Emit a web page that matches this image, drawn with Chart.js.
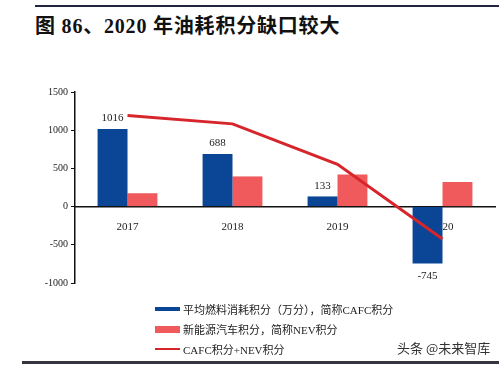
<!DOCTYPE html>
<html>
<head>
<meta charset="utf-8">
<script src="https://cdn.jsdelivr.net/npm/chart.js@4/dist/chart.umd.min.js"></script>
<style>
  html, body { margin: 0; padding: 0; background: #fff; }
  #wrap { position: relative; width: 499px; height: 365px; overflow: hidden; }
  #topline { position: absolute; left: 35px; right: 0; top: 5px; height: 2px; background: #23243f; }
  #bottomline { position: absolute; left: 22px; right: 0; top: 361px; height: 3px; background: #34353f; }
  #title {
    position: absolute; left: 35px; top: 10px; letter-spacing: 0.8px; font-weight: bold;
    font: bold 20px "Liberation Serif", "Noto Sans CJK SC", serif; color: #111; white-space: pre;
  }
  #chart { position: absolute; left: 0; top: 0; }
  #legend { position: absolute; left: 155px; top: 299px; font: 11px "Liberation Serif", "Noto Sans CJK SC", serif; color: #222; }
  .item { display: flex; align-items: center; height: 20px; }
  .sw { width: 25px; margin-right: 3px; }
  #mark { position: absolute; left: 397px; top: 338px; font: 13px "Noto Sans CJK SC", sans-serif; color: #333; }
</style>
</head>
<body>
<div id="wrap">
  <div id="topline"></div>
  <div id="title">图 86、2020 年油耗积分缺口较大</div>
  <canvas id="chart" width="499" height="365"></canvas>
  <div id="legend">
    <div class="item"><div class="sw" style="height:4px;background:#0b4595"></div>平均燃料消耗积分（万分），简称CAFC积分</div>
    <div class="item"><div class="sw" style="height:7px;background:#f05a5c"></div>新能源汽车积分，简称NEV积分</div>
    <div class="item"><div class="sw" style="height:2px;background:#d7262b"></div>CAFC积分+NEV积分</div>
  </div>
  <div id="mark">头条 @未来智库</div>
  <div id="bottomline"></div>
</div>
<script>
let years = ["2017", "2018", "2019", "2020"];
let cafc = [1016, 688, 133, -745];
let nev = [175, 395, 420, 322];
let total = [1191, 1083, 553, -425];
let yTicks = [1500, 1000, 500, 0, -500, -1000];

// value labels on the CAFC bars
let barLabels = {
  id: "barLabels",
  afterDatasetsDraw(chart) {
    let ctx = chart.ctx;
    let meta = chart.getDatasetMeta(0);
    ctx.save();
    ctx.font = "11px 'Liberation Serif'";
    ctx.fillStyle = "#222";
    ctx.textAlign = "center";
    meta.data.forEach((bar, i) => {
      let v = cafc[i];
      if (v >= 0) {
        ctx.textBaseline = "bottom";
        ctx.fillText(String(v), bar.x, bar.y - 5);
      } else {
        ctx.textBaseline = "top";
        ctx.fillText(String(v), bar.x, bar.y + 7);
      }
    });
    ctx.restore();
  }
};

new Chart(document.getElementById("chart"), {
  data: {
    labels: years,
    datasets: [
      { type: "bar", data: cafc, backgroundColor: "#0b4595", order: 1,
        barPercentage: 1, categoryPercentage: 0.57 },
      { type: "bar", data: nev, backgroundColor: "#f05a5c", order: 2,
        barPercentage: 1, categoryPercentage: 0.57 },
      { type: "line", data: total, borderColor: "#d7262b", borderWidth: 3,
        pointRadius: 0, tension: 0, order: 0 }
    ]
  },
  options: {
    responsive: false,
    animation: false,
    layout: { padding: { top: 92, bottom: 82, left: 0, right: 4 } },
    plugins: { legend: { display: false }, tooltip: { enabled: false } },
    scales: {
      x: {
        position: { y: 0 },
        grid: { display: false },
        border: { color: "#111", width: 1.5 },
        ticks: { color: "#222", padding: 6, font: { family: "Liberation Serif", size: 11 } }
      },
      y: {
        min: -1000, max: 1500,
        afterBuildTicks(scale) { scale.ticks = yTicks.map(v => ({ value: v })); },
        afterFit(scale) { scale.width = 75; },
        grid: { drawOnChartArea: false, tickLength: 4, color: "#111" },
        border: { color: "#111", width: 1.5 },
        ticks: { color: "#222", padding: 3, font: { family: "Liberation Serif", size: 10 },
          callback: v => String(v) }
      }
    }
  },
  plugins: [barLabels]
});
</script>
</body>
</html>
